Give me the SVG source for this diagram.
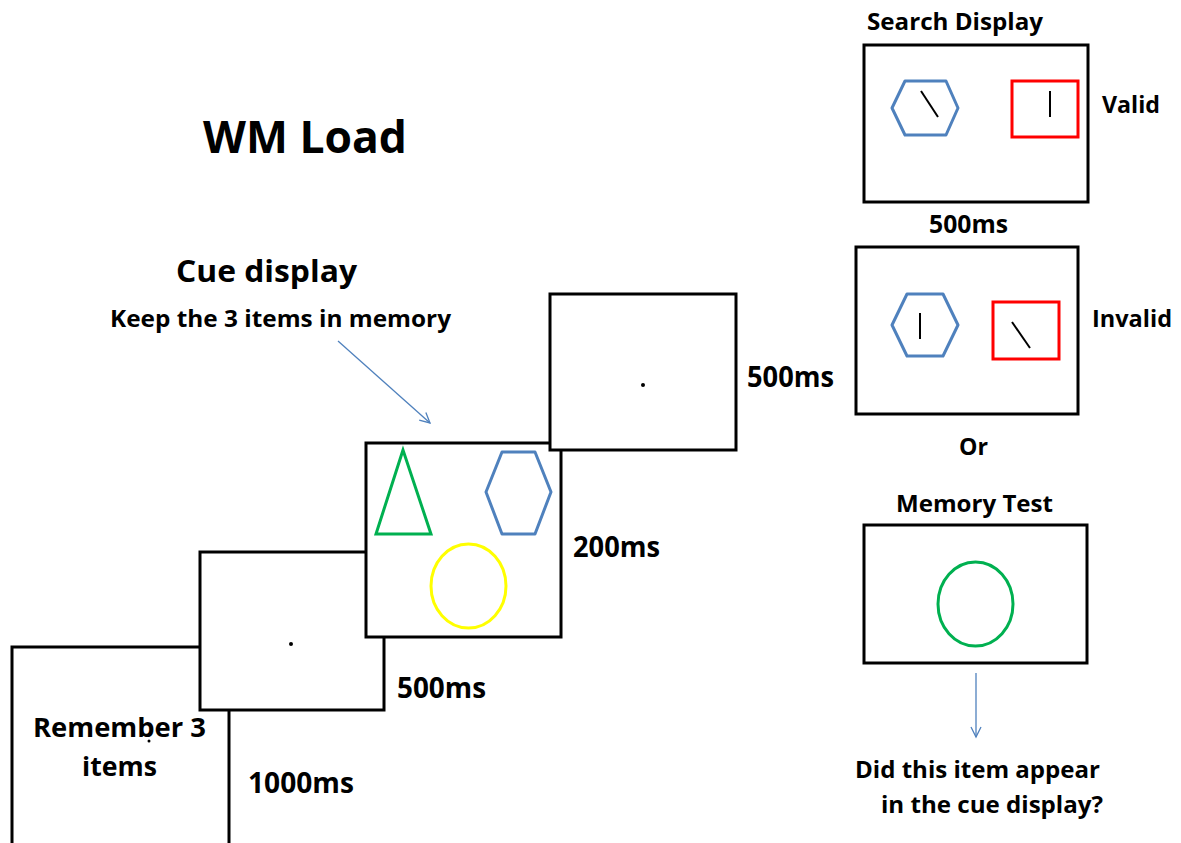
<svg xmlns="http://www.w3.org/2000/svg" width="1181" height="843" viewBox="0 0 1181 843">
<style>
.t{font-family:"Open Sans","Liberation Sans",sans-serif;font-weight:bold;fill:#000}
.box{fill:#fff;stroke:#000;stroke-width:3}
.blue{fill:none;stroke:#4F81BD;stroke-width:3;stroke-linejoin:round}
.red{fill:none;stroke:#FF0000;stroke-width:3}
.bar{stroke:#000;stroke-width:2}
.conn{stroke:#4F81BD;stroke-width:1.3;fill:none}
</style>
<defs>
<marker id="ah" markerWidth="14" markerHeight="14" refX="11" refY="6" orient="auto" markerUnits="userSpaceOnUse">
<polyline points="1,1 11,6 1,11" fill="none" stroke="#4F81BD" stroke-width="1.3"/>
</marker>
</defs>
<rect width="1181" height="843" fill="#fff"/>
<text class="t" x="203" y="153" font-size="45" textLength="204" lengthAdjust="spacingAndGlyphs">WM Load</text>

<g id="box-remember">
<rect class="box" x="12" y="647" width="217" height="220"/>
<text class="t" x="33" y="737" font-size="27" textLength="173" lengthAdjust="spacingAndGlyphs">Remember 3</text>
<circle cx="149" cy="741" r="1.5" fill="#000"/>
<text class="t" x="82" y="776" font-size="27" textLength="75" lengthAdjust="spacingAndGlyphs">items</text>
<text class="t" x="248" y="793" font-size="28" textLength="106" lengthAdjust="spacingAndGlyphs">1000ms</text>
</g>

<g id="box-fix1">
<rect class="box" x="200" y="552" width="184" height="158"/>
<circle cx="291" cy="644" r="2" fill="#000"/>
<text class="t" x="397" y="698" font-size="28" textLength="89" lengthAdjust="spacingAndGlyphs">500ms</text>
</g>

<g id="box-cue">
<rect class="box" x="366" y="443" width="195" height="194"/>
<polygon points="403,450 376,534 431,534" fill="none" stroke="#00B050" stroke-width="3" stroke-linejoin="miter"/>
<polygon class="blue" points="486,492 502,452 535,452 551,492 535,534 502,534"/>
<ellipse cx="468.5" cy="586" rx="37.5" ry="42" fill="none" stroke="#FFFF00" stroke-width="3"/>
<text class="t" x="573" y="557" font-size="28" textLength="87" lengthAdjust="spacingAndGlyphs">200ms</text>
<text class="t" x="176" y="282" font-size="31" textLength="181" lengthAdjust="spacingAndGlyphs">Cue display</text>
<text class="t" x="110" y="327" font-size="24" textLength="341" lengthAdjust="spacingAndGlyphs">Keep the 3 items in memory</text>
</g>

<g id="box-fix2">
<rect class="box" x="550" y="294" width="186" height="156"/>
<circle cx="643" cy="385" r="2" fill="#000"/>
<text class="t" x="747" y="387" font-size="28" textLength="87" lengthAdjust="spacingAndGlyphs">500ms</text>
</g>

<g id="box-valid">
<text class="t" x="867" y="30" font-size="24" textLength="176" lengthAdjust="spacingAndGlyphs">Search Display</text>
<rect class="box" x="864" y="45" width="224" height="157"/>
<polygon class="blue" points="892,108 905,81 946,81 958,108 946,135 905,135"/>
<line class="bar" x1="921" y1="91" x2="938" y2="117"/>
<rect class="red" x="1012" y="81" width="66" height="56"/>
<line class="bar" x1="1050" y1="91" x2="1050" y2="117"/>
<text class="t" x="1102" y="113" font-size="24" textLength="58" lengthAdjust="spacingAndGlyphs">Valid</text>
<text class="t" x="929" y="233" font-size="25" textLength="79" lengthAdjust="spacingAndGlyphs">500ms</text>
</g>

<g id="box-invalid">
<rect class="box" x="856" y="247" width="222" height="167"/>
<polygon class="blue" points="892,325 907,294 943,294 958,325 943,356 907,356"/>
<line class="bar" x1="920" y1="313" x2="920" y2="339"/>
<rect class="red" x="993" y="302" width="66" height="57"/>
<line class="bar" x1="1012" y1="322" x2="1030" y2="348"/>
<text class="t" x="1092" y="327" font-size="24" textLength="80" lengthAdjust="spacingAndGlyphs">Invalid</text>
<text class="t" x="959" y="455" font-size="24" textLength="29" lengthAdjust="spacingAndGlyphs">Or</text>
</g>

<g id="box-memory">
<text class="t" x="896" y="512" font-size="24" textLength="157" lengthAdjust="spacingAndGlyphs">Memory Test</text>
<rect class="box" x="864" y="525" width="223" height="138"/>
<ellipse cx="975.5" cy="604" rx="37.5" ry="42" fill="none" stroke="#00B050" stroke-width="3"/>
<text class="t" x="855" y="778" font-size="24" textLength="245" lengthAdjust="spacingAndGlyphs">Did this item appear</text>
<text class="t" x="881" y="813" font-size="24" textLength="222" lengthAdjust="spacingAndGlyphs">in the cue display?</text>
</g>

<g id="connectors">
<line class="conn" x1="338" y1="341" x2="430" y2="423" marker-end="url(#ah)"/>
<line class="conn" x1="976" y1="673" x2="976" y2="737" marker-end="url(#ah)"/>
</g>
</svg>
